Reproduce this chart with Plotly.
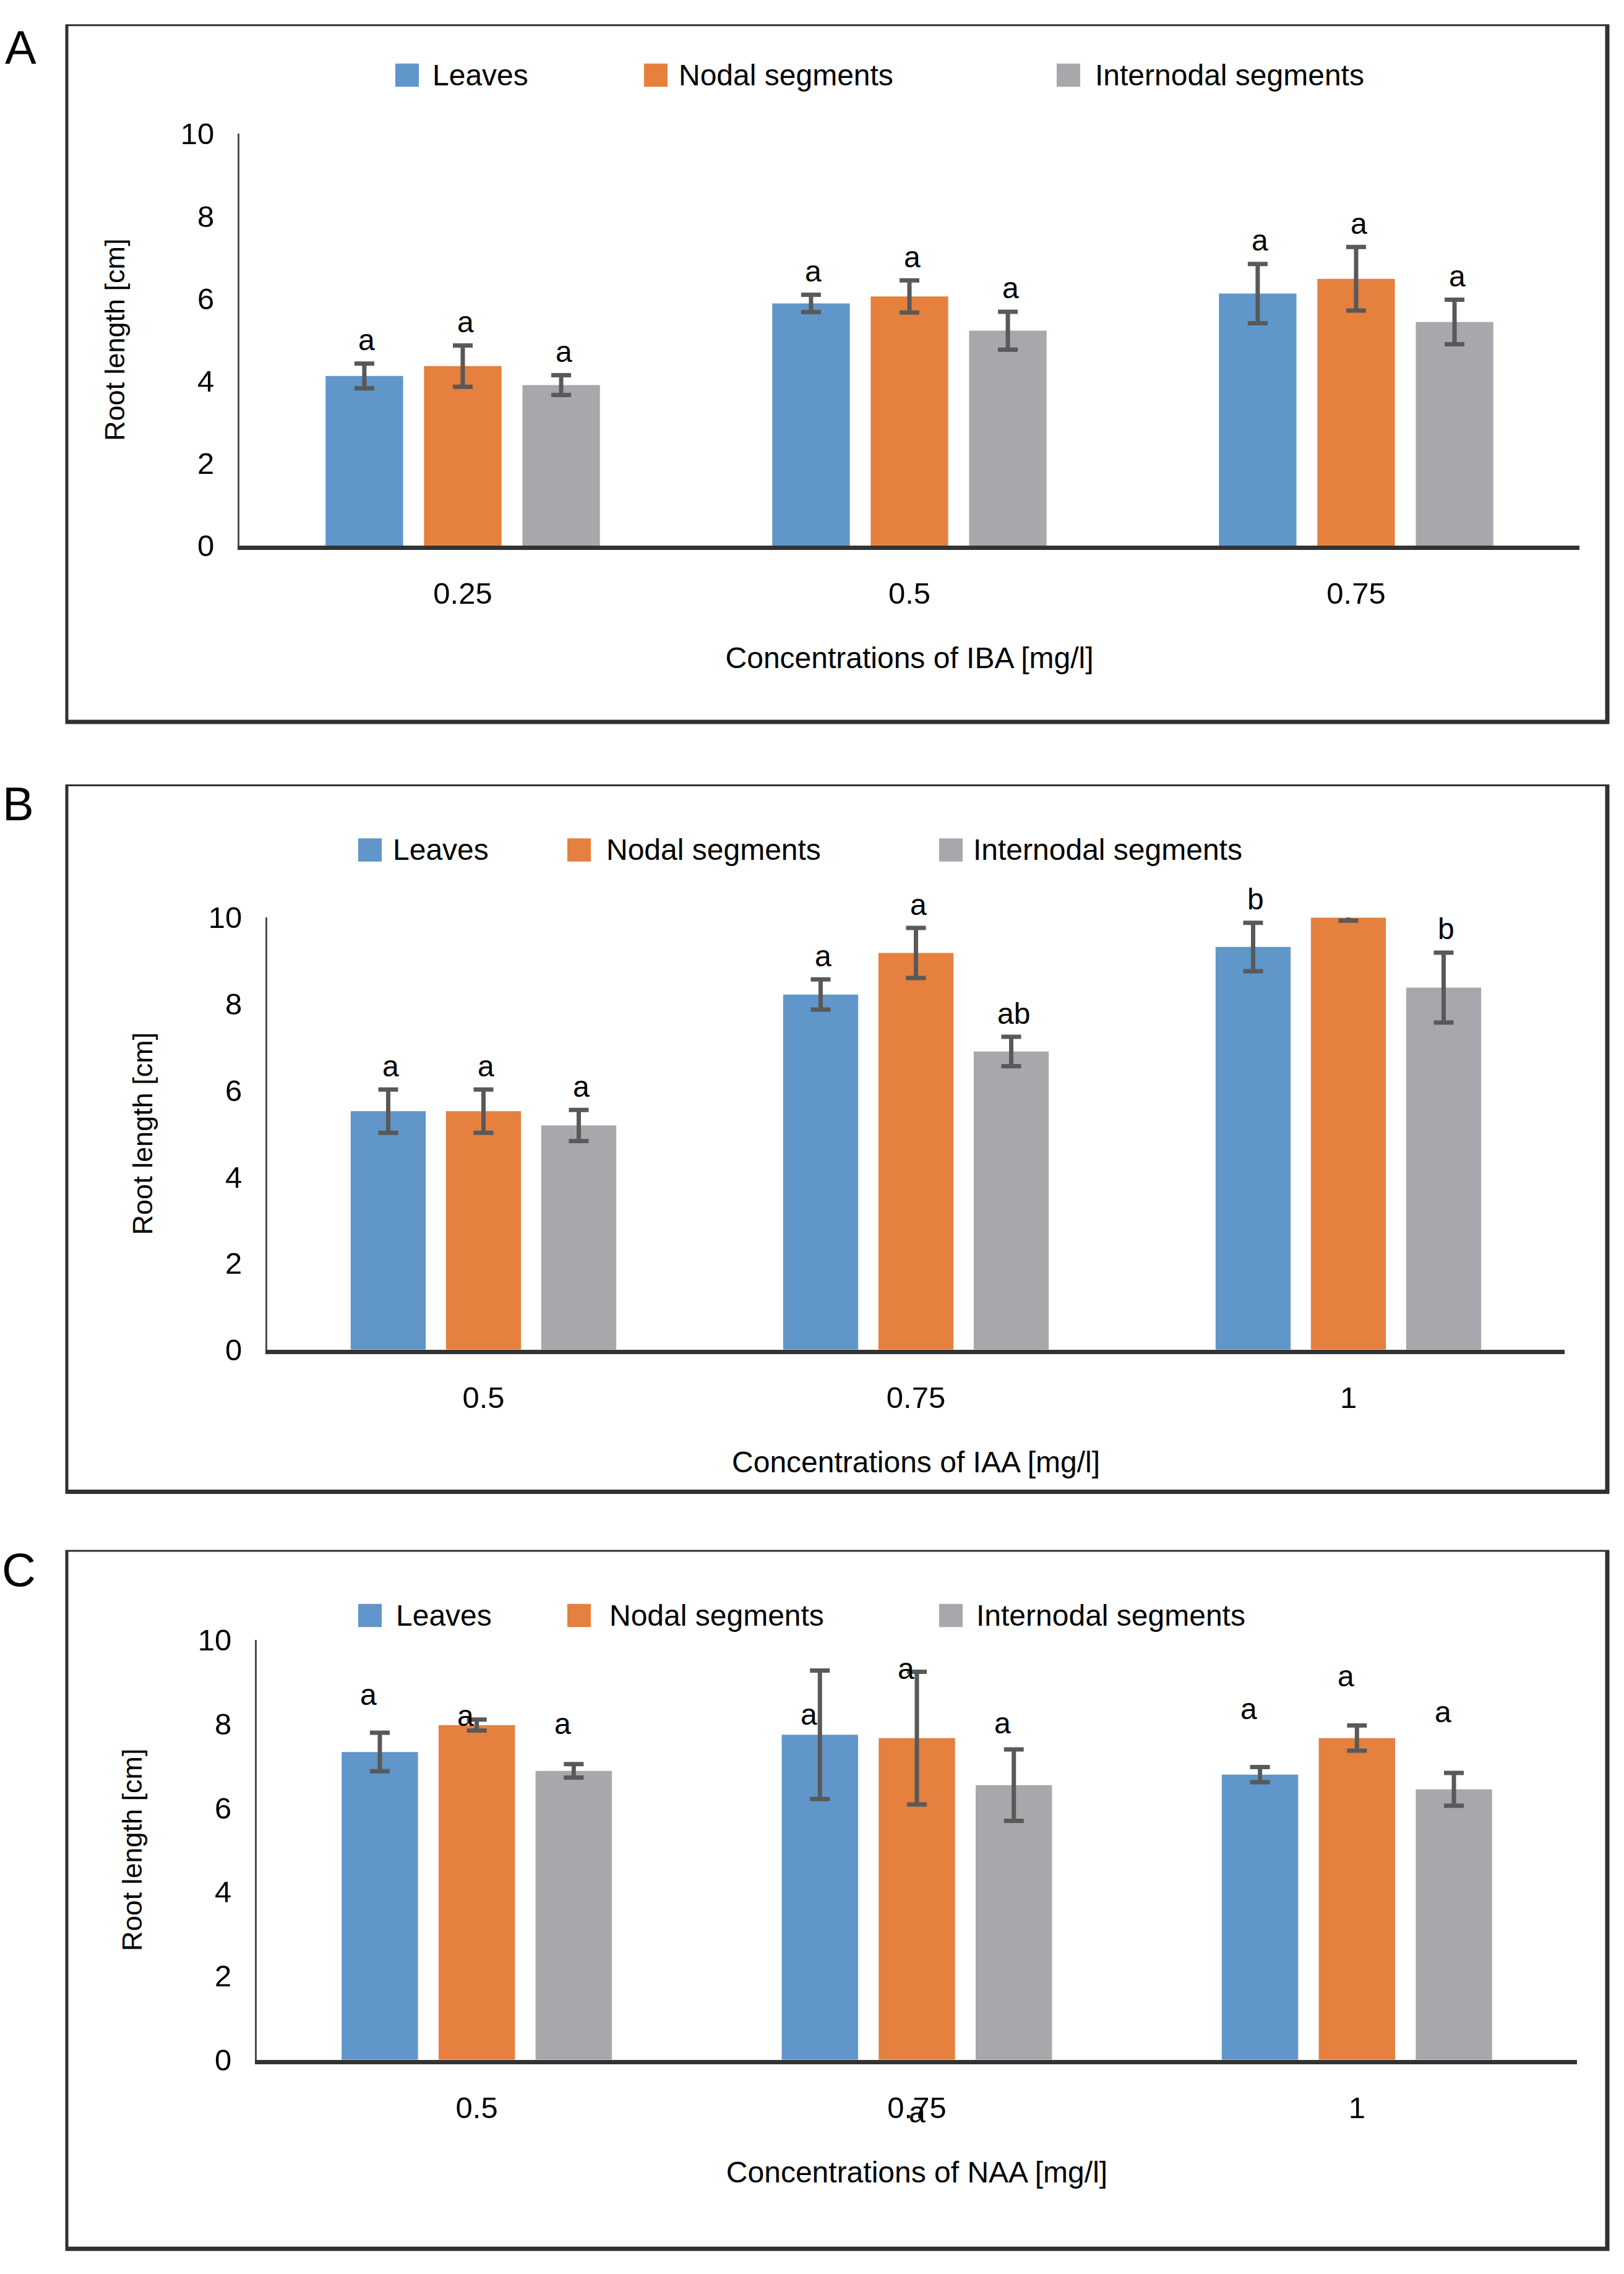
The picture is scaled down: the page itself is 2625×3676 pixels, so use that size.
import plotly.graph_objects as go

# ---------------- data ----------------
series = ["Leaves", "Nodal segments", "Internodal segments"]
colors = ["#6096C9", "#E5803F", "#A7A8AB"]

# Panel A : IBA
iba_conc = ["0.25", "0.5", "0.75"]
iba_leaves = [4.12, 5.88, 6.12]
iba_nodal = [4.36, 6.05, 6.48]
iba_inter = [3.90, 5.22, 5.43]
iba_leaves_err = [0.30, 0.21, 0.72]
iba_nodal_err = [0.50, 0.39, 0.77]
iba_inter_err = [0.24, 0.46, 0.54]
iba_leaves_lbl = ["a", "a", "a"]
iba_nodal_lbl = ["a", "a", "a"]
iba_inter_lbl = ["a", "a", "a"]

# Panel B : IAA
iaa_conc = ["0.5", "0.75", "1"]
iaa_leaves = [5.52, 8.22, 9.32]
iaa_nodal = [5.52, 9.18, 10.0]
iaa_inter = [5.19, 6.90, 8.38]
iaa_leaves_err = [0.50, 0.35, 0.56]
iaa_nodal_err = [0.50, 0.58, 0.07]
iaa_inter_err = [0.36, 0.34, 0.81]
iaa_leaves_lbl = ["a", "a", "b"]
iaa_nodal_lbl = ["a", "a", "a"]
iaa_inter_lbl = ["a", "ab", "b"]

# Panel C : NAA
naa_conc = ["0.5", "0.75", "1"]
naa_leaves = [7.33, 7.74, 6.79]
naa_nodal = [7.97, 7.66, 7.66]
naa_inter = [6.88, 6.54, 6.44]
naa_leaves_err = [0.46, 1.53, 0.18]
naa_nodal_err = [0.13, 1.58, 0.30]
naa_inter_err = [0.16, 0.85, 0.39]
naa_leaves_lbl = ["a", "a", "a"]
naa_nodal_lbl = ["a", "a", "a"]
naa_inter_lbl = ["a", "a", "a"]
# letter heights as they appear in panel C
naa_leaves_lbl_y = [8.70, 8.22, 8.35]
naa_nodal_lbl_y = [8.20, 9.32, 9.14]
naa_inter_lbl_y = [8.00, 8.01, 8.28]
naa_extra_lbl = "a"
naa_extra_cat = 1          # index of the "0.75" category
naa_extra_y = -1.25        # in axis units (below the axis)

x_titles = ["Concentrations of IBA [mg/l]",
            "Concentrations of IAA [mg/l]",
            "Concentrations of NAA [mg/l]"]
y_title = "Root length [cm]"
panel_letters = ["A", "B", "C"]

# ---------------- layout helpers ----------------
W, H = 2625, 3676
FONT = "Liberation Sans, Arial, Helvetica, sans-serif"
BARGAP = 0.339
BARGROUPGAP = 0.2125
YMAX = 10


def px(x):
    return x / W


def py(y):
    return 1 - y / H


panels = [
    dict(conc=iba_conc,
         vals=[iba_leaves, iba_nodal, iba_inter],
         errs=[iba_leaves_err, iba_nodal_err, iba_inter_err],
         lbls=[iba_leaves_lbl, iba_nodal_lbl, iba_inter_lbl],
         lbl_y=None,
         xdom=(387, 2553), ydom=(868, 192),
         box=(108, 2598, 14, 1157),
         letter=(33, 50),
         leg_y=96, leg_sw=[639, 1041, 1708], leg_tx=[697, 1095, 1768]),
    dict(conc=iaa_conc,
         vals=[iaa_leaves, iaa_nodal, iaa_inter],
         errs=[iaa_leaves_err, iaa_nodal_err, iaa_inter_err],
         lbls=[iaa_leaves_lbl, iaa_nodal_lbl, iaa_inter_lbl],
         lbl_y=None,
         xdom=(432, 2529), ydom=(2187, 1478),
         box=(108, 2598, 1261, 2420),
         letter=(29, 1291),
         leg_y=1367, leg_sw=[579, 917, 1518], leg_tx=[633, 978, 1571]),
    dict(conc=naa_conc,
         vals=[naa_leaves, naa_nodal, naa_inter],
         errs=[naa_leaves_err, naa_nodal_err, naa_inter_err],
         lbls=[naa_leaves_lbl, naa_nodal_lbl, naa_inter_lbl],
         lbl_y=[naa_leaves_lbl_y, naa_nodal_lbl_y, naa_inter_lbl_y],
         xdom=(415, 2549), ydom=(3352, 2663),
         box=(108, 2598, 2517, 3662),
         letter=(30, 2548),
         leg_y=2623, leg_sw=[579, 917, 1518], leg_tx=[638, 983, 1576]),
]

fig = go.Figure()
shapes = []
annotations = []
layout = {}

for i, p in enumerate(panels):
    sfx = "" if i == 0 else str(i + 1)
    xa, ya = "x" + sfx, "y" + sfx
    band = (p["xdom"][1] - p["xdom"][0]) / len(p["conc"])
    slot = band * (1 - BARGAP) / 3.0
    for s in range(3):
        fig.add_trace(go.Bar(
            x=p["conc"], y=p["vals"][s], name=series[s],
            marker=dict(color=colors[s], line=dict(width=0)),
            error_y=dict(type="data", array=p["errs"][s], visible=True,
                         color="#595959", thickness=7, width=16),
            xaxis=xa, yaxis=ya, showlegend=False,
        ))
        # significance letters over their own bar (x = category index)
        for k in range(len(p["conc"])):
            if p["lbl_y"] is None:
                yv = p["vals"][s][k] + p["errs"][s][k]
                ys, xs = 38, 4
            else:
                yv = p["lbl_y"][s][k]
                ys, xs = 0, -18
            annotations.append(dict(
                x=k, y=yv, xref=xa, yref=ya, text=p["lbls"][s][k],
                showarrow=False, xanchor="center", yanchor="middle",
                yshift=ys, xshift=xs + (s - 1) * slot,
                font=dict(family=FONT, size=48, color="black"),
            ))
    layout["xaxis" + sfx] = dict(
        domain=[px(p["xdom"][0]), px(p["xdom"][1])], anchor=ya,
        type="category", showline=True, linecolor="#333333", linewidth=7,
        showgrid=False, zeroline=False, ticks="",
        tickfont=dict(family=FONT, size=49, color="black"),
        ticklabelstandoff=28,
        title=dict(text=x_titles[i], standoff=64,
                   font=dict(family=FONT, size=48, color="black")),
    )
    layout["yaxis" + sfx] = dict(
        domain=[py(p["ydom"][0]), py(p["ydom"][1])], anchor=xa,
        range=[0, YMAX], dtick=2, showline=True, linecolor="#4d4d4d",
        linewidth=3, showgrid=False, zeroline=False, ticks="",
        tickfont=dict(family=FONT, size=49, color="black"),
        ticklabelstandoff=28,
        title=dict(text=y_title, standoff=76,
                   font=dict(family=FONT, size=45, color="black")),
    )
    # panel box
    l, r, t, b = p["box"]
    lc = "#333033"
    shapes += [
        dict(type="line", xref="paper", yref="paper", x0=px(l - 2), x1=px(r + 3),
             y0=py(t), y1=py(t), line=dict(color=lc, width=3)),
        dict(type="line", xref="paper", yref="paper", x0=px(l - 2), x1=px(r + 3),
             y0=py(b), y1=py(b), line=dict(color=lc, width=7)),
        dict(type="line", xref="paper", yref="paper", x0=px(l), x1=px(l),
             y0=py(t - 1), y1=py(b + 3), line=dict(color=lc, width=5)),
        dict(type="line", xref="paper", yref="paper", x0=px(r), x1=px(r),
             y0=py(t - 1), y1=py(b + 3), line=dict(color=lc, width=7)),
    ]
    # panel letter
    annotations.append(dict(
        x=px(p["letter"][0]), y=py(p["letter"][1]), xref="paper", yref="paper",
        text=panel_letters[i], showarrow=False, xanchor="center", yanchor="middle",
        font=dict(family=FONT, size=76, color="black")))
    # legend (swatch + label)
    for s in range(3):
        x0 = p["leg_sw"][s]
        yc = p["leg_y"]
        shapes.append(dict(type="rect", xref="paper", yref="paper",
                           x0=px(x0), x1=px(x0 + 38), y0=py(yc + 19), y1=py(yc - 19),
                           fillcolor=colors[s], line=dict(width=0)))
        annotations.append(dict(
            x=px(p["leg_tx"][s]), y=py(yc), xref="paper", yref="paper",
            text=series[s], showarrow=False, xanchor="left", yanchor="middle",
            font=dict(family=FONT, size=48, color="black")))

# stray letter in panel C (below the "0.75" tick label); the y value is
# outside the axis range, so it is placed in the axis' domain coordinates
annotations.append(dict(
    x=naa_extra_cat, y=naa_extra_y / YMAX, xref="x3", yref="y3 domain",
    text=naa_extra_lbl, showarrow=False, xanchor="center", yanchor="middle",
    font=dict(family=FONT, size=48, color="black")))

fig.update_layout(
    width=W, height=H,
    margin=dict(l=0, r=0, t=0, b=0),
    paper_bgcolor="white", plot_bgcolor="white",
    barmode="group", bargap=BARGAP, bargroupgap=BARGROUPGAP,
    font=dict(family=FONT, color="black"),
    shapes=shapes, annotations=annotations,
    **layout,
)

fig.write_html("out.html",
               config={"displayModeBar": False},
               post_script="document.body.style.margin='0px';"
                           "document.body.style.overflow='hidden';")
